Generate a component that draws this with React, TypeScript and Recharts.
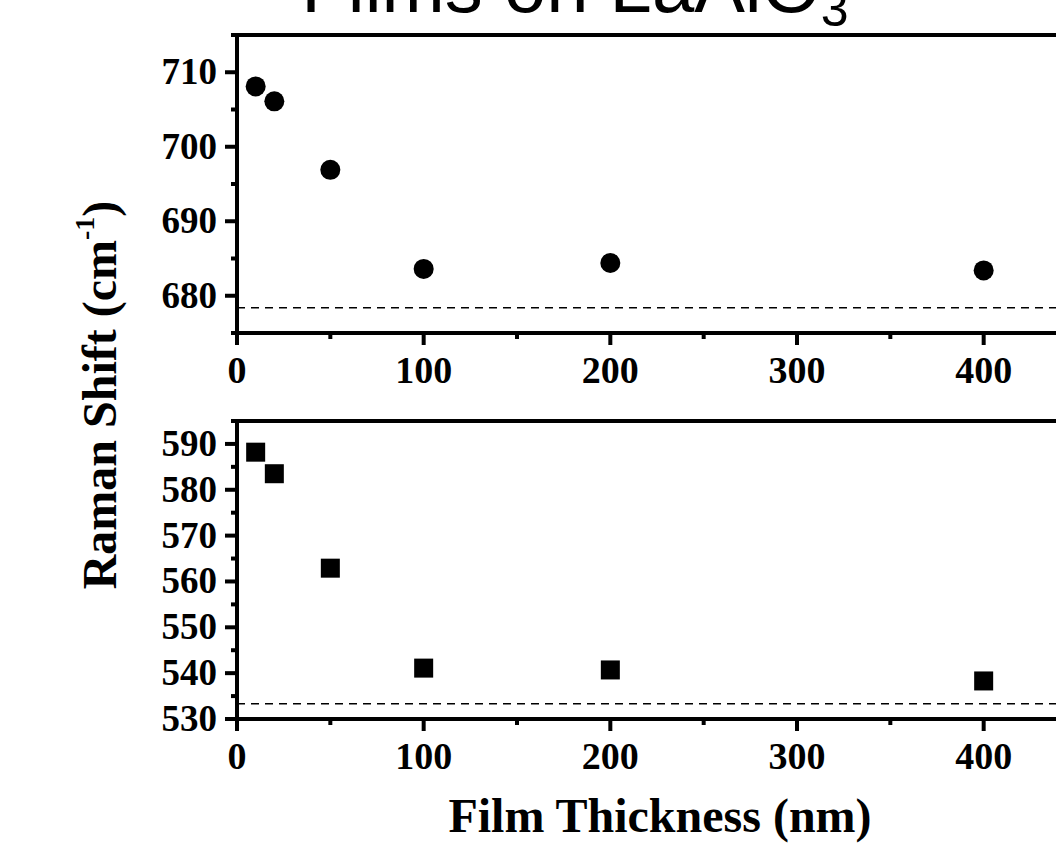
import React from 'react';
import { ScatterChart, Scatter, XAxis, YAxis, ReferenceLine } from 'recharts';

const thickness = [10, 20, 50, 100, 200, 400];
const highMode = [708.1, 706.1, 696.9, 683.6, 684.4, 683.4];
const lowMode = [588.2, 583.5, 562.9, 541.1, 540.7, 538.3];
const highBulk = 678.4;
const lowBulk = 533.3;
const xTicks = [0, 50, 100, 150, 200, 250, 300, 350, 400, 450];
const highTicks = [675, 680, 685, 690, 695, 700, 705, 710, 715];
const lowTicks = [530, 535, 540, 545, 550, 555, 560, 565, 570, 575, 580, 585, 590, 595];
const titleMain = 'Films on LaAlO';
const titleSub = '3';
const xLabel = 'Film Thickness (nm)';
const yLabelMain = 'Raman Shift (cm';
const yLabelSup = '-1';

const highData = thickness.map((t, i) => ({ x: t, y: highMode[i] }));
const lowData = thickness.map((t, i) => ({ x: t, y: lowMode[i] }));

const SERIF = '"Liberation Serif", "Times New Roman", serif';
const SANS = '"Liberation Sans", Arial, sans-serif';

const XTick = (props: any) => {
  const { x, y, payload } = props;
  const major = payload.value % 100 === 0;
  return (
    <g>
      <line x1={x} x2={x} y1={y} y2={y + (major ? 12 : 6)} stroke="#000" strokeWidth={4} />
      {major && (
        <text x={x} y={y + 50} textAnchor="middle" fontFamily={SERIF} fontWeight="bold" fontSize={38} fill="#000">
          {payload.value}
        </text>
      )}
    </g>
  );
};

const makeYTick = (lo: number, hi: number) => (props: any) => {
  const { x, y, payload } = props;
  const v = payload.value;
  const major = v % 10 === 0 && v >= lo && v <= hi;
  return (
    <g>
      <line x1={x} x2={x - (major ? 12 : 6)} y1={y} y2={y} stroke="#000" strokeWidth={4} />
      {major && (
        <text x={x - 20} y={y + 12} textAnchor="end" fontFamily={SERIF} fontWeight="bold" fontSize={37} fill="#000">
          {v}
        </text>
      )}
    </g>
  );
};

const Dot = (props: any) => <circle cx={props.cx} cy={props.cy} r={10} fill="#000" />;
const Sq = (props: any) => (
  <rect x={props.cx - 9.5} y={props.cy - 9.5} width={19} height={19} fill="#000" />
);

const CHART_W = 1100;
const CHART_H = 400;
const margin = { top: 35, right: 23, bottom: 0, left: 0 };

function Panel({ data, domain, ticks, bulk, shape, lo, hi }: any) {
  return (
    <ScatterChart width={CHART_W} height={CHART_H} margin={margin}>
      <XAxis
        type="number"
        dataKey="x"
        domain={[0, 450]}
        ticks={xTicks}
        interval={0}
        allowDataOverflow
        tickLine={false}
        tickSize={0}
        tickMargin={0}
        height={67}
        axisLine={{ stroke: '#000', strokeWidth: 4 }}
        tick={<XTick />}
      />
      <YAxis
        type="number"
        dataKey="y"
        domain={domain}
        ticks={ticks}
        interval={0}
        allowDataOverflow
        tickLine={false}
        tickSize={0}
        tickMargin={0}
        width={237}
        axisLine={{ stroke: '#000', strokeWidth: 4 }}
        tick={makeYTick(lo, hi)}
      />
      <ReferenceLine y={domain[1]} stroke="#000" strokeWidth={4} />
      <ReferenceLine x={450} stroke="#000" strokeWidth={4} />
      <ReferenceLine y={bulk} stroke="#000" strokeWidth={1.5} strokeDasharray="8 6" />
      <Scatter data={data} shape={shape} isAnimationActive={false} />
    </ScatterChart>
  );
}

export default function App() {
  return (
    <div
      style={{
        position: 'absolute',
        left: 0,
        top: 0,
        width: 1056,
        height: 846,
        overflow: 'hidden',
        background: '#fff',
      }}
    >
      <div style={{ position: 'absolute', left: 0, top: 0 }}>
        <Panel data={highData} domain={[675, 715]} ticks={highTicks} bulk={highBulk} shape={Dot} lo={680} hi={710} />
      </div>
      <div style={{ position: 'absolute', left: 0, top: 385.7 }}>
        <Panel data={lowData} domain={[530, 595]} ticks={lowTicks} bulk={lowBulk} shape={Sq} lo={530} hi={590} />
      </div>
      <svg
        width={1056}
        height={846}
        style={{ position: 'absolute', left: 0, top: 0, pointerEvents: 'none' }}
      >
        <text x={575} y={12} textAnchor="middle" fontFamily={SANS} fontSize={76} fill="#000">
          {titleMain}
          <tspan fontSize={50} dy={14}>{titleSub}</tspan>
        </text>
        <text
          transform="translate(116, 395) rotate(-90)"
          textAnchor="middle"
          fontFamily={SERIF}
          fontWeight="bold"
          fontSize={48}
          fill="#000"
        >
          {yLabelMain}
          <tspan fontSize={28} dy={-22}>{yLabelSup}</tspan>
          <tspan fontSize={48} dy={22}>)</tspan>
        </text>
        <text x={660} y={832} textAnchor="middle" fontFamily={SERIF} fontWeight="bold" fontSize={48} fill="#000">
          {xLabel}
        </text>
      </svg>
    </div>
  );
}
